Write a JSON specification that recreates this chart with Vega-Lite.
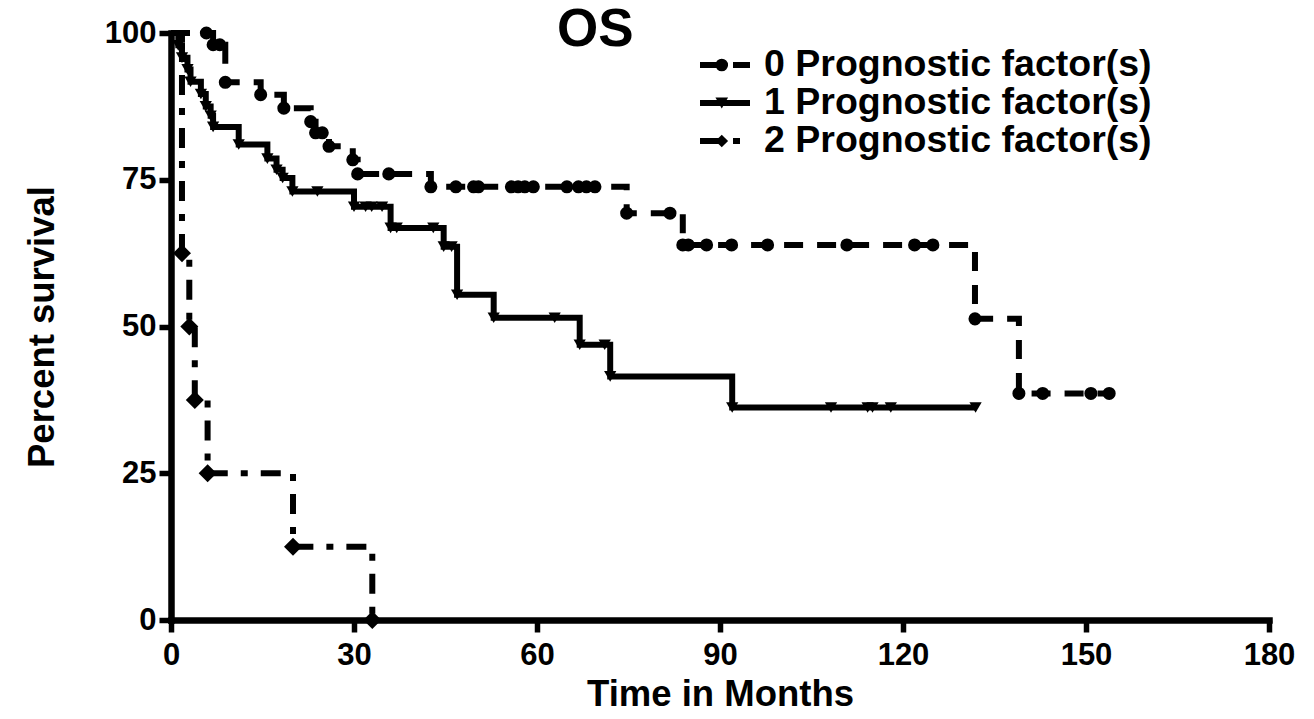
{
  "$schema": "https://vega.github.io/schema/vega-lite/v6.json",
  "autosize": "none",
  "width": 1098,
  "height": 587,
  "padding": {"left": 171, "top": 33, "right": 45, "bottom": 99},
  "background": "white",
  "config": {
    "view": {"stroke": null},
    "font": "Liberation Sans",
    "axis": {
      "domainColor": "black", "domainWidth": 6.5, "domainCap": "square",
      "tickColor": "black", "tickWidth": 5.5, "tickSize": 12,
      "labelFont": "Liberation Sans", "labelFontWeight": "bold", "labelFontSize": 31, "labelColor": "black",
      "titleFont": "Liberation Sans", "titleFontWeight": "bold", "titleFontSize": 36.5, "titleColor": "black",
      "grid": false
    }
  },
  "title": {
    "text": "OS", "font": "Liberation Sans", "fontWeight": "bold", "fontSize": 53, "color": "black",
    "anchor": "start", "frame": "group", "dx": 386, "baseline": "alphabetic", "offset": 0, "dy": 82
  },
  "data": {
    "values": [
      {"group": "0 Prognostic factor(s)", "time": 0, "survival": 100},
      {"group": "0 Prognostic factor(s)", "time": 5.8, "survival": 100},
      {"group": "0 Prognostic factor(s)", "time": 6.9, "survival": 98},
      {"group": "0 Prognostic factor(s)", "time": 8.0, "survival": 98},
      {"group": "0 Prognostic factor(s)", "time": 8.9, "survival": 91.6},
      {"group": "0 Prognostic factor(s)", "time": 14.7, "survival": 89.5},
      {"group": "0 Prognostic factor(s)", "time": 18.5, "survival": 87.2},
      {"group": "0 Prognostic factor(s)", "time": 22.9, "survival": 84.9},
      {"group": "0 Prognostic factor(s)", "time": 23.7, "survival": 83.0},
      {"group": "0 Prognostic factor(s)", "time": 24.8, "survival": 83.0},
      {"group": "0 Prognostic factor(s)", "time": 25.9, "survival": 80.7},
      {"group": "0 Prognostic factor(s)", "time": 29.8, "survival": 78.4},
      {"group": "0 Prognostic factor(s)", "time": 30.6, "survival": 76.0},
      {"group": "0 Prognostic factor(s)", "time": 35.7, "survival": 76.0},
      {"group": "0 Prognostic factor(s)", "time": 42.6, "survival": 73.8},
      {"group": "0 Prognostic factor(s)", "time": 46.7, "survival": 73.8},
      {"group": "0 Prognostic factor(s)", "time": 49.6, "survival": 73.8},
      {"group": "0 Prognostic factor(s)", "time": 50.4, "survival": 73.8},
      {"group": "0 Prognostic factor(s)", "time": 55.8, "survival": 73.8},
      {"group": "0 Prognostic factor(s)", "time": 56.9, "survival": 73.8},
      {"group": "0 Prognostic factor(s)", "time": 58.0, "survival": 73.8},
      {"group": "0 Prognostic factor(s)", "time": 59.4, "survival": 73.8},
      {"group": "0 Prognostic factor(s)", "time": 64.9, "survival": 73.8},
      {"group": "0 Prognostic factor(s)", "time": 66.8, "survival": 73.8},
      {"group": "0 Prognostic factor(s)", "time": 68.1, "survival": 73.8},
      {"group": "0 Prognostic factor(s)", "time": 69.5, "survival": 73.8},
      {"group": "0 Prognostic factor(s)", "time": 74.7, "survival": 69.3},
      {"group": "0 Prognostic factor(s)", "time": 81.8, "survival": 69.3},
      {"group": "0 Prognostic factor(s)", "time": 83.9, "survival": 63.9},
      {"group": "0 Prognostic factor(s)", "time": 84.8, "survival": 63.9},
      {"group": "0 Prognostic factor(s)", "time": 87.8, "survival": 63.9},
      {"group": "0 Prognostic factor(s)", "time": 91.9, "survival": 63.9},
      {"group": "0 Prognostic factor(s)", "time": 97.8, "survival": 63.9},
      {"group": "0 Prognostic factor(s)", "time": 110.8, "survival": 63.9},
      {"group": "0 Prognostic factor(s)", "time": 121.9, "survival": 63.9},
      {"group": "0 Prognostic factor(s)", "time": 124.9, "survival": 63.9},
      {"group": "0 Prognostic factor(s)", "time": 131.8, "survival": 51.3},
      {"group": "0 Prognostic factor(s)", "time": 139.0, "survival": 38.6},
      {"group": "0 Prognostic factor(s)", "time": 142.9, "survival": 38.6},
      {"group": "0 Prognostic factor(s)", "time": 150.8, "survival": 38.6},
      {"group": "0 Prognostic factor(s)", "time": 153.8, "survival": 38.6},
      {"group": "1 Prognostic factor(s)", "time": 0, "survival": 100},
      {"group": "1 Prognostic factor(s)", "time": 1.2, "survival": 97.9},
      {"group": "1 Prognostic factor(s)", "time": 1.8, "survival": 95.8},
      {"group": "1 Prognostic factor(s)", "time": 2.7, "survival": 93.8},
      {"group": "1 Prognostic factor(s)", "time": 3.2, "survival": 91.7},
      {"group": "1 Prognostic factor(s)", "time": 4.9, "survival": 89.6},
      {"group": "1 Prognostic factor(s)", "time": 5.7, "survival": 87.5},
      {"group": "1 Prognostic factor(s)", "time": 6.5, "survival": 85.9},
      {"group": "1 Prognostic factor(s)", "time": 6.9, "survival": 84.0},
      {"group": "1 Prognostic factor(s)", "time": 11.1, "survival": 81.0},
      {"group": "1 Prognostic factor(s)", "time": 15.8, "survival": 78.6},
      {"group": "1 Prognostic factor(s)", "time": 17.3, "survival": 76.7},
      {"group": "1 Prognostic factor(s)", "time": 18.3, "survival": 75.3},
      {"group": "1 Prognostic factor(s)", "time": 19.9, "survival": 73.0},
      {"group": "1 Prognostic factor(s)", "time": 24.0, "survival": 73.0},
      {"group": "1 Prognostic factor(s)", "time": 30.0, "survival": 70.4},
      {"group": "1 Prognostic factor(s)", "time": 31.9, "survival": 70.4},
      {"group": "1 Prognostic factor(s)", "time": 32.9, "survival": 70.4},
      {"group": "1 Prognostic factor(s)", "time": 34.6, "survival": 70.4},
      {"group": "1 Prognostic factor(s)", "time": 36.0, "survival": 66.8},
      {"group": "1 Prognostic factor(s)", "time": 37.0, "survival": 66.8},
      {"group": "1 Prognostic factor(s)", "time": 43.0, "survival": 66.8},
      {"group": "1 Prognostic factor(s)", "time": 44.7, "survival": 63.6},
      {"group": "1 Prognostic factor(s)", "time": 46.0, "survival": 63.6},
      {"group": "1 Prognostic factor(s)", "time": 46.9, "survival": 55.4},
      {"group": "1 Prognostic factor(s)", "time": 52.9, "survival": 51.5},
      {"group": "1 Prognostic factor(s)", "time": 62.9, "survival": 51.5},
      {"group": "1 Prognostic factor(s)", "time": 67.0, "survival": 46.9},
      {"group": "1 Prognostic factor(s)", "time": 71.1, "survival": 46.9},
      {"group": "1 Prognostic factor(s)", "time": 72.0, "survival": 41.5},
      {"group": "1 Prognostic factor(s)", "time": 92.0, "survival": 36.2},
      {"group": "1 Prognostic factor(s)", "time": 108.2, "survival": 36.2},
      {"group": "1 Prognostic factor(s)", "time": 114.2, "survival": 36.2},
      {"group": "1 Prognostic factor(s)", "time": 115.0, "survival": 36.2},
      {"group": "1 Prognostic factor(s)", "time": 118.0, "survival": 36.2},
      {"group": "1 Prognostic factor(s)", "time": 131.9, "survival": 36.2},
      {"group": "2 Prognostic factor(s)", "time": 0, "survival": 100},
      {"group": "2 Prognostic factor(s)", "time": 1.8, "survival": 62.5},
      {"group": "2 Prognostic factor(s)", "time": 3.0, "survival": 50},
      {"group": "2 Prognostic factor(s)", "time": 3.9, "survival": 37.5},
      {"group": "2 Prognostic factor(s)", "time": 6.0, "survival": 25},
      {"group": "2 Prognostic factor(s)", "time": 20.0, "survival": 12.5},
      {"group": "2 Prognostic factor(s)", "time": 33.0, "survival": 0}
    ]
  },
  "encoding": {
    "x": {
      "field": "time", "type": "quantitative",
      "scale": {"domain": [0, 180], "nice": false, "zero": true},
      "axis": {"values": [0, 30, 60, 90, 120, 150, 180], "title": "Time in Months", "labelPadding": 8, "titlePadding": 6, "labelFlush": false}
    },
    "y": {
      "field": "survival", "type": "quantitative",
      "scale": {"domain": [0, 100], "nice": false},
      "axis": {"values": [0, 25, 50, 75, 100], "title": "Percent survival", "labelPadding": 3, "titlePadding": 43, "labelFlush": false}
    }
  },
  "layer": [
    {
      "mark": {"type": "line", "interpolate": "step-after", "color": "black", "strokeWidth": 6, "strokeCap": "butt"},
      "encoding": {
        "order": {"field": "time", "type": "quantitative"},
        "strokeDash": {
          "field": "group", "type": "nominal",
          "scale": {"domain": ["0 Prognostic factor(s)", "1 Prognostic factor(s)", "2 Prognostic factor(s)"], "range": [[19, 14], [1, 0], [20, 13, 7, 13]]},
          "legend": {
            "title": null, "orient": "none", "legendX": 526, "legendY": 13, "padding": 0,
            "symbolType": "stroke", "symbolSize": 2500, "symbolStrokeWidth": 6, "symbolStrokeColor": "black", "symbolOpacity": 1,
            "labelFont": "Liberation Sans", "labelFontWeight": "bold", "labelFontSize": 37.5, "labelColor": "black",
            "labelLimit": 0, "labelOffset": 11, "rowPadding": 0, "clipHeight": 38
          }
        }
      }
    },
    {
      "transform": [{"filter": "datum.time > 0 && datum.group === '0 Prognostic factor(s)'"}],
      "mark": {"type": "point", "shape": "circle", "size": 170, "filled": true, "color": "black", "opacity": 1}
    },
    {
      "transform": [{"filter": "datum.time > 0 && datum.group === '1 Prognostic factor(s)'"}],
      "mark": {"type": "point", "shape": "triangle-down", "size": 150, "filled": true, "color": "black", "opacity": 1}
    },
    {
      "transform": [{"filter": "datum.time > 0 && datum.group === '2 Prognostic factor(s)'"}],
      "mark": {"type": "point", "shape": "diamond", "size": 324, "filled": true, "color": "black", "opacity": 1}
    },
    {
      "transform": [{"filter": "datum.time > 0"}],
      "mark": {"type": "point", "filled": true, "color": "black", "opacity": 0, "size": 160},
      "encoding": {
        "shape": {
          "field": "group", "type": "nominal",
          "scale": {
            "domain": ["0 Prognostic factor(s)", "1 Prognostic factor(s)", "2 Prognostic factor(s)", "-"],
            "range": ["circle", "triangle-down", "diamond", "square"]
          },
          "legend": {
            "title": null, "orient": "none", "legendX": 532, "legendY": 13, "padding": 0,
            "values": ["0 Prognostic factor(s)", "1 Prognostic factor(s)", "2 Prognostic factor(s)"],
            "symbolSize": 160, "symbolStrokeWidth": 0, "symbolFillColor": "black", "symbolOpacity": 1,
            "labelExpr": "' '",
            "labelFont": "Liberation Sans", "labelFontWeight": "bold", "labelFontSize": 37.5, "labelOpacity": 0,
            "labelLimit": 0, "labelOffset": 11, "rowPadding": 0, "clipHeight": 38
          }
        }
      }
    }
  ]
}
